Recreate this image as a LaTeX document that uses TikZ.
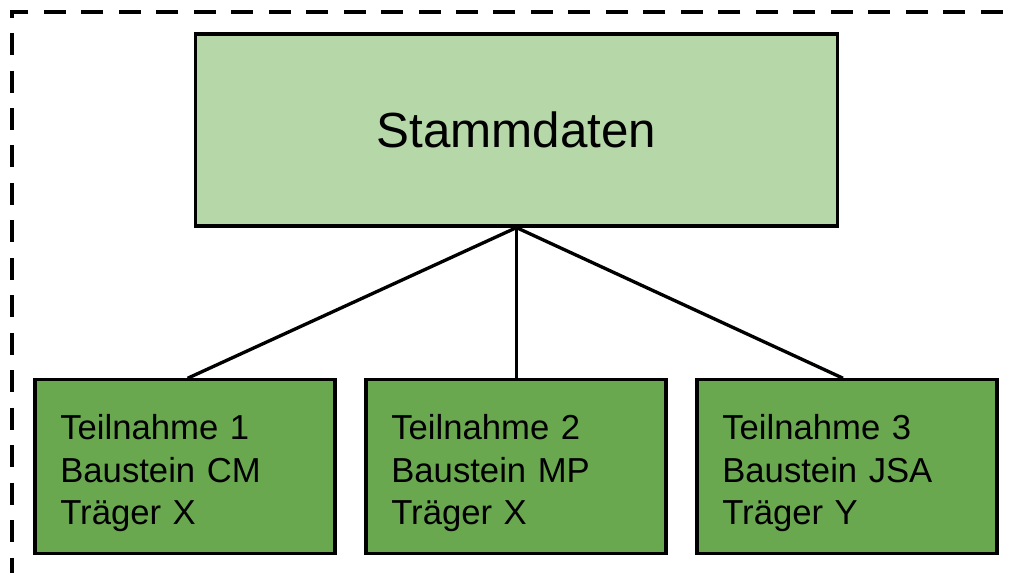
\documentclass[tikz,border=0pt]{standalone}
\usepackage{fontspec}
\setmainfont{Liberation Sans}
\definecolor{lightgreen}{HTML}{B6D7A8}
\definecolor{darkgreen}{HTML}{6AA84F}
\begin{document}
\begin{tikzpicture}[x=0.75pt,y=-0.75pt,
  topbox/.style={draw=black, line width=2.4pt, fill=lightgreen, minimum width=482pt, minimum height=144pt, inner sep=0pt, font=\fontsize{37}{44}\selectfont},
  leafbox/.style={draw=black, line width=2.4pt, fill=darkgreen, minimum width=225pt, minimum height=130pt, inner sep=0pt},
  leaftext/.style={inner sep=0pt, text width=187pt, align=left, font=\fontsize{26}{32}\selectfont},
  link/.style={line width=2.5pt, draw=black}]
\useasboundingbox (0,0) rectangle (1012,573);
\clip (0,0) rectangle (1012,573);
\draw[line width=2.6pt, dash pattern=on 16.5pt off 11.6pt] (1040,12) -- (12,12) -- (12,600);
\node[topbox] (top) at (516.5,130) {Stammdaten};
\node[leafbox] (b1) at (185,466.5) {};
\node[leafbox] (b2) at (516,466.5) {};
\node[leafbox] (b3) at (847,466.5) {};
\node[leaftext] (t1) at ([yshift=-5pt]b1.center) {Teilnahme 1\\Baustein CM\\Träger X};
\node[leaftext] (t2) at ([yshift=-5pt]b2.center) {Teilnahme 2\\Baustein MP\\Träger X};
\node[leaftext] (t3) at ([yshift=-5pt]b3.center) {Teilnahme 3\\Baustein JSA\\Träger Y};
\draw[link] (top.south) -- ([xshift=2pt]b1.north);
\draw[link] (top.south) -- (top.south |- b2.north);
\draw[link] (top.south) -- ([xshift=-3pt]b3.north);
\end{tikzpicture}
\end{document}
